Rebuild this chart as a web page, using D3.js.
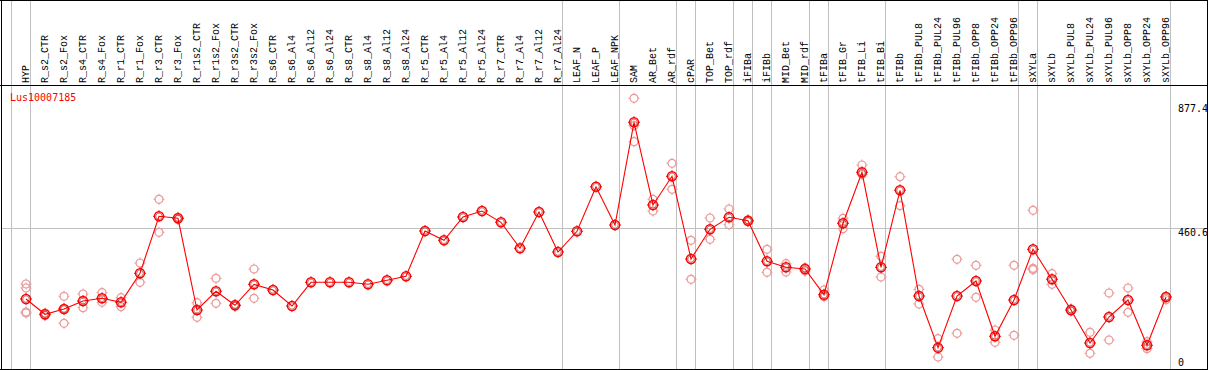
<!DOCTYPE html>
<html>
<head>
<meta charset="utf-8">
<script src="https://cdn.jsdelivr.net/npm/d3@7"></script>
<style>
  body { margin: 0; background: #fff; }
  text { font-family: "DejaVu Sans Mono", monospace; font-size: 10px; }
  .xlabels text { font-family: "Liberation Mono", "DejaVu Sans Mono", monospace; }
</style>
</head>
<body>
<div id="chart"></div>
<script>
const geneName = "Lus10007185";

const categories = [
  "HYP", "R_s2_CTR", "R_s2_Fox", "R_s4_CTR", "R_s4_Fox", "R_r1_CTR", "R_r1_Fox",
  "R_r3_CTR", "R_r3_Fox", "R_r1s2_CTR", "R_r1s2_Fox", "R_r3s2_CTR", "R_r3s2_Fox",
  "R_s6_CTR", "R_s6_Al4", "R_s6_Al12", "R_s6_Al24", "R_s8_CTR", "R_s8_Al4",
  "R_s8_Al12", "R_s8_Al24", "R_r5_CTR", "R_r5_Al4", "R_r5_Al12", "R_r5_Al24",
  "R_r7_CTR", "R_r7_Al4", "R_r7_Al12", "R_r7_Al24", "LEAF_N", "LEAF_P", "LEAF_NPK",
  "SAM", "AR_Bet", "AR_rdf", "cPAR", "TOP_Bet", "TOP_rdf", "iFIBa", "iFIBb",
  "MID_Bet", "MID_rdf", "tFIBa", "tFIB_Gr", "tFIB_Li", "tFIB_Bi", "tFIBb",
  "tFIBb_PUL8", "tFIBb_PUL24", "tFIBb_PUL96", "tFIBb_OPP8", "tFIBb_OPP24", "tFIBb_OPP96",
  "sXYLa", "sXYLb", "sXYLb_PUL8", "sXYLb_PUL24", "sXYLb_PUL96", "sXYLb_OPP8",
  "sXYLb_OPP24", "sXYLb_OPP96"
];

// mean expression per sample
const means = [
  232.4, 183.2, 200.2, 225.9, 234.6, 221.8, 315.0,
  498.2, 491.7, 197.0, 257.1, 212.1, 279.6,
  261.3, 209.9, 286.0, 286.0, 286.0, 279.6,
  292.5, 305.3, 450.9, 421.0, 495.9, 515.2,
  478.9, 395.3, 512.0, 383.4, 450.0, 593.3, 470.2,
  800.3, 534.5, 626.7, 360.9, 456.4, 494.9, 484.0, 353.5,
  334.3, 328.8, 246.2, 475.7, 639.6, 334.3, 581.7,
  242.0, 75.9, 242.0, 290.2, 112.5, 229.2,
  392.1, 295.7, 197.0, 91.0, 174.5, 229.2,
  83.6, 238.8
];

// individual replicates per sample
const replicates = [
  [280.6, 267.7, 190.6, 187.4], [179, 187], [241.1, 154.3, 200.2], [248.4, 204.4], [252.6, 221.8], [236.6, 207.6], [348.1, 286.0],
  [552.8, 446.7], [488, 495], [220.5, 173.6], [298.9, 218.6], [209, 215], [328.8, 234.6],
  [], [], [], [], [], [],
  [], [], [], [], [], [],
  [], [], [], [], [], [], [],
  [877.4, 789.4, 737.9], [552.8, 515.2], [668.5, 585.0], [421.0, 295.7], [492.7, 424.2], [521.6, 471.2], [481, 487], [392.1, 318.2],
  [345.8, 319.2], [322, 333], [261.3, 239.8], [491.7, 458.3], [663.0, 633.2], [369.6, 303.1], [625.4, 532.2],
  [263.5, 216.3], [104.8, 46.0], [360.0, 122.1], [340.7, 237.8], [132.7, 93.2], [340.7, 115.7],
  [517.5, 331.0, 326.5], [313.7, 279.6], [193, 201], [125.3, 57.9], [251.7, 100.6], [267.7, 189.6],
  [95.1, 72.6], [230, 241]
];

// first sample of each bordered group
const groupStarts = ["HYP", "R_s2_CTR", "LEAF_N", "SAM", "cPAR", "TOP_Bet", "iFIBa",
  "iFIBb", "MID_Bet", "tFIBa", "tFIB_Gr", "tFIBb", "sXYLa", "sXYLb"];

const yTicks = [0, 460.6, 877.4];
const yGrid = [460.6];

const width = 1209;
const height = 370;
const headerBottom = 85;

const svg = d3.select("#chart")
  .append("svg")
  .attr("width", width)
  .attr("height", height);

const x = d3.scalePoint()
  .domain(categories)
  .range([26, 1166]);
const step = x.step();

const y = d3.scaleLinear()
  .domain([0, 877.4])
  .range([371.3, 98.3]);

///////////////////////////////////////
// grid
///////////////////////////////////////
const sepX = groupStarts.map(c => Math.round(x(c) - step + 4) + 0.5);
sepX.push(Math.round(x(categories[categories.length - 1]) + 4) + 0.5);

svg.append("g").attr("class", "vgrid")
  .selectAll("line")
  .data(sepX)
  .enter().append("line")
  .attr("x1", d => d).attr("x2", d => d)
  .attr("y1", 0).attr("y2", height)
  .attr("stroke", "#c0c0c0");

svg.append("g").attr("class", "hgrid")
  .selectAll("line")
  .data(yGrid)
  .enter().append("line")
  .attr("x1", 1).attr("x2", 1207)
  .attr("y1", d => Math.round(y(d)) + 0.5)
  .attr("y2", d => Math.round(y(d)) + 0.5)
  .attr("stroke", "#c0c0c0");

// frame
const frame = svg.append("g").attr("class", "frame")
  .attr("stroke", "#000").attr("stroke-width", 1);
frame.append("line").attr("x1", 0).attr("x2", 1208).attr("y1", 0.5).attr("y2", 0.5);
frame.append("line").attr("x1", 0).attr("x2", 1208).attr("y1", headerBottom + 0.5).attr("y2", headerBottom + 0.5);
frame.append("line").attr("x1", 0).attr("x2", 1208).attr("y1", 369.5).attr("y2", 369.5);
frame.append("line").attr("x1", 1.5).attr("x2", 1.5).attr("y1", 0).attr("y2", 370);
frame.append("line").attr("x1", 1207.5).attr("x2", 1207.5).attr("y1", 0).attr("y2", 370);

///////////////////////////////////////
// labels
///////////////////////////////////////
svg.append("g").attr("class", "xlabels")
  .selectAll("text")
  .data(categories)
  .enter().append("text")
  .attr("transform", d => "translate(" + Math.round(x(d) + 3) + "," + (headerBottom - 2) + ") rotate(-90)")
  .attr("fill", "#000")
  .text(d => d);

svg.append("g").attr("class", "ylabels")
  .selectAll("text")
  .data(yTicks)
  .enter().append("text")
  .attr("x", 1178)
  .attr("y", d => Math.min(Math.max(y(d) + 8, 112), 366))
  .attr("fill", "#000")
  .text(d => d === 0 ? "0" : d3.format(".1f")(d));

svg.append("text")
  .attr("x", 10)
  .attr("y", 101)
  .attr("fill", "#ff0000")
  .text(geneName);

///////////////////////////////////////
// marks
///////////////////////////////////////
const marker = function (g, r, color, sw) {
  g.append("circle")
    .attr("r", r)
    .attr("fill", "none")
    .attr("stroke", color)
    .attr("stroke-width", sw);
  g.append("path")
    .attr("d", "M0," + (-r - 1.5) + "V" + (-r + 0.5) + "M0," + (r - 0.5) + "V" + (r + 1.5) +
      "M" + (-r - 1.5) + ",0H" + (-r + 0.5) + "M" + (r - 0.5) + ",0H" + (r + 1.5))
    .attr("stroke", color)
    .attr("stroke-width", 1);
};

const repData = [];
replicates.forEach(function (reps, i) {
  reps.forEach(function (v) {
    repData.push({ cat: categories[i], value: v });
  });
});

const repNodes = svg.append("g").attr("class", "reps")
  .selectAll("g")
  .data(repData)
  .enter().append("g")
  .attr("transform", d => "translate(" + x(d.cat) + "," + y(d.value) + ")");
repNodes.each(function () { marker(d3.select(this), 4, "#eb9a9a", 1.2); });

const meanData = categories.map((c, i) => ({ cat: c, value: means[i] }));

svg.append("path")
  .datum(meanData)
  .attr("fill", "none")
  .attr("stroke", "#ff0000")
  .attr("stroke-width", 1.1)
  .attr("d", d3.line().x(d => x(d.cat)).y(d => y(d.value)));

const meanNodes = svg.append("g").attr("class", "means")
  .selectAll("g")
  .data(meanData)
  .enter().append("g")
  .attr("transform", d => "translate(" + x(d.cat) + "," + y(d.value) + ")");
meanNodes.each(function () {
  const g = d3.select(this);
  marker(g, 4.5, "#ff0000", 1.5);
  g.append("circle")
    .attr("r", 3.2)
    .attr("fill", "none")
    .attr("stroke", "#800")
    .attr("stroke-width", 0.5);
});
</script>
</body>
</html>
